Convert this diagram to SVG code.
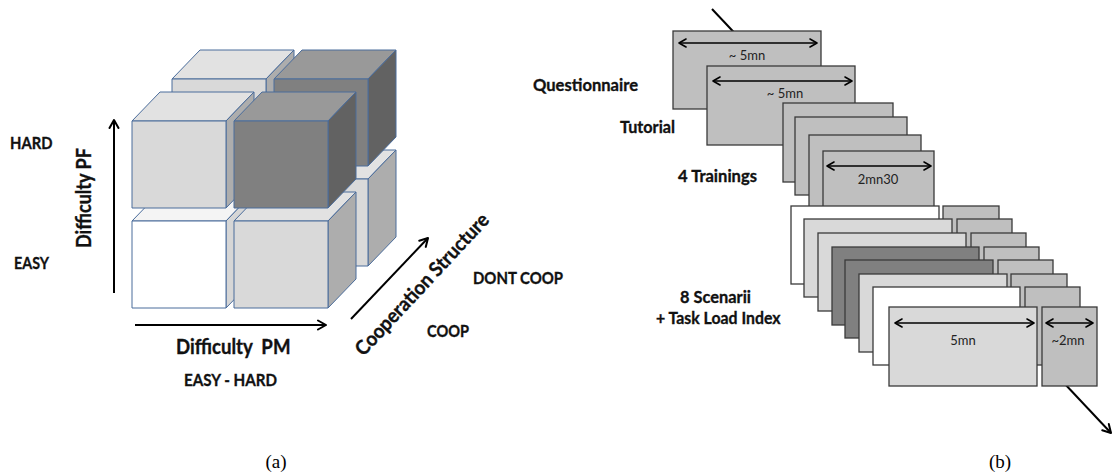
<svg xmlns="http://www.w3.org/2000/svg" width="1114" height="472" viewBox="0 0 1114 472">
<defs>
<style>
.t{font-family:Lato,"Liberation Sans",sans-serif;font-weight:bold;fill:#111;stroke:#111;stroke-width:0.35;font-size:17.5px}
.ax-t{font-size:20px}
.s{font-family:Lato,"Liberation Sans",sans-serif;font-size:13px;fill:#222}
.cap{font-family:"Liberation Serif",serif;font-size:19px;fill:#000}
.cb polygon,.cb rect{stroke:#4a6c9b;stroke-width:1;stroke-linejoin:round}
.lf{fill:#d9d9d9}.lt{fill:#e2e2e2}.ls{fill:#adadad}
.df{fill:#808080}.dt{fill:#999999}.ds{fill:#626262}
.wf{fill:#ffffff}.wt{fill:#f4f4f4}.ws{fill:#d6d6d6}
.bx{stroke:#3a3a3a;stroke-width:1.3}
.g1{fill:#bfbfbf}.g2{fill:#d9d9d9}.g3{fill:#808080}.g0{fill:#ffffff}
.ax{stroke:#000;stroke-width:2;fill:none}
.da{stroke:#000;stroke-width:1.6;fill:none}
</style>
<marker id="ah" viewBox="0 0 12 12" markerWidth="12" markerHeight="12" refX="11" refY="6" orient="auto" markerUnits="userSpaceOnUse">
<path d="M3,1.5 L11,6 L3,10.5" fill="none" stroke="#000" stroke-width="2" stroke-linecap="round" stroke-linejoin="round"/>
</marker>
<marker id="sh" viewBox="0 0 12 12" markerWidth="12" markerHeight="12" refX="10.5" refY="6" orient="auto-start-reverse" markerUnits="userSpaceOnUse">
<path d="M3.5,2 L10.5,6 L3.5,10" fill="none" stroke="#000" stroke-width="1.6" stroke-linecap="round" stroke-linejoin="round"/>
</marker>
</defs>
<rect width="1114" height="472" fill="#fff"/>

<!-- Panel (a): cubes, back layer (DONT COOP) -->
<g id="cube-back-bl" class="cb">
<polygon class="wt" points="172,179 200,150 294,150 266,179"/>
<polygon class="ws" points="266,179 294,150 294,237 266,266"/>
<rect class="wf" x="172" y="179" width="94" height="87"/>
</g>
<g id="cube-back-br" class="cb">
<polygon class="lt" points="274,179 302,150 396,150 368,179"/>
<polygon class="ls" points="368,179 396,150 396,237 368,266"/>
<rect class="lf" x="274" y="179" width="94" height="87"/>
</g>
<g id="cube-back-tl" class="cb">
<polygon class="lt" points="172,79 200,50 294,50 266,79"/>
<polygon class="ls" points="266,79 294,50 294,137 266,166"/>
<rect class="lf" x="172" y="79" width="94" height="87"/>
</g>
<g id="cube-back-tr" class="cb">
<polygon class="dt" points="274,79 302,50 396,50 368,79"/>
<polygon class="ds" points="368,79 396,50 396,137 368,166"/>
<rect class="df" x="274" y="79" width="94" height="87"/>
</g>
<!-- front layer (COOP) -->
<g id="cube-front-bl" class="cb">
<polygon class="wt" points="132,221 160,192 254,192 226,221"/>
<polygon class="ws" points="226,221 254,192 254,279 226,308"/>
<rect class="wf" x="132" y="221" width="94" height="87"/>
</g>
<g id="cube-front-br" class="cb">
<polygon class="lt" points="234,221 262,192 356,192 328,221"/>
<polygon class="ls" points="328,221 356,192 356,279 328,308"/>
<rect class="lf" x="234" y="221" width="94" height="87"/>
</g>
<g id="cube-front-tl" class="cb">
<polygon class="lt" points="132,121 160,92 254,92 226,121"/>
<polygon class="ls" points="226,121 254,92 254,179 226,208"/>
<rect class="lf" x="132" y="121" width="94" height="87"/>
</g>
<g id="cube-front-tr" class="cb">
<polygon class="dt" points="234,121 262,92 356,92 328,121"/>
<polygon class="ds" points="328,121 356,92 356,179 328,208"/>
<rect class="df" x="234" y="121" width="94" height="87"/>
</g>

<g id="axes-a">
<line class="ax" x1="114" y1="293" x2="114" y2="120" marker-end="url(#ah)"/>
<line class="ax" x1="135" y1="325" x2="326" y2="325" marker-end="url(#ah)"/>
<line class="ax" x1="351" y1="319" x2="428" y2="238" marker-end="url(#ah)"/>
</g>

<g id="labels-a">
<text class="t" x="10" y="149" textLength="42.5" lengthAdjust="spacingAndGlyphs">HARD</text>
<text class="t" x="14" y="269" textLength="35" lengthAdjust="spacingAndGlyphs">EASY</text>
<text class="t ax-t" transform="translate(91,198) rotate(-90)" x="-50" y="0" textLength="100" lengthAdjust="spacingAndGlyphs">Difficulty PF</text>
<text class="t ax-t" x="176" y="354" textLength="114.5" lengthAdjust="spacingAndGlyphs">Difficulty&#160; PM</text>
<text class="t" x="184" y="386" textLength="93" lengthAdjust="spacingAndGlyphs">EASY - HARD</text>
<text class="t ax-t" transform="translate(427,289) rotate(-47)" x="-93" y="0" textLength="186" lengthAdjust="spacingAndGlyphs">Cooperation Structure</text>
<text class="t" x="473" y="284" textLength="90" lengthAdjust="spacingAndGlyphs">DONT COOP</text>
<text class="t" x="427" y="337" textLength="42" lengthAdjust="spacingAndGlyphs">COOP</text>
<text class="cap" x="276" y="468" text-anchor="middle">(a)</text>
</g>

<!-- Panel (b) -->
<g id="timeline">
<line class="ax" x1="712" y1="9" x2="1111" y2="433" marker-end="url(#ah)"/>
</g>

<g id="box-questionnaire">
<rect class="bx g1" x="673" y="31" width="148" height="78"/>
<line class="da" x1="679" y1="43" x2="817" y2="43" marker-start="url(#sh)" marker-end="url(#sh)"/>
<text class="s" x="747" y="60" text-anchor="middle">~ 5mn</text>
</g>
<g id="box-tutorial">
<rect class="bx g1" x="707" y="66" width="148" height="79"/>
<line class="da" x1="713" y1="81" x2="852" y2="81" marker-start="url(#sh)" marker-end="url(#sh)"/>
<text class="s" x="785" y="98" text-anchor="middle">~ 5mn</text>
</g>
<g id="box-training-1"><rect class="bx g1" x="783" y="103" width="110" height="79"/></g>
<g id="box-training-2"><rect class="bx g1" x="795" y="117" width="112" height="78"/></g>
<g id="box-training-3"><rect class="bx g1" x="809" y="135" width="112" height="78"/></g>
<g id="box-training-4">
<rect class="bx g1" x="823" y="151" width="111" height="78"/>
<line class="da" x1="827" y1="166" x2="931" y2="166" marker-start="url(#sh)" marker-end="url(#sh)"/>
<text class="s" x="878" y="184" text-anchor="middle">2mn30</text>
</g>

<g id="scenario-1"><rect class="bx g0" x="791" y="206" width="148" height="78"/><rect class="bx g1" x="943" y="206" width="56" height="78"/></g>
<g id="scenario-2"><rect class="bx g2" x="804" y="219" width="148" height="78"/><rect class="bx g1" x="957" y="219" width="55" height="78"/></g>
<g id="scenario-3"><rect class="bx g2" x="818" y="233" width="148" height="78"/><rect class="bx g1" x="971" y="233" width="55" height="78"/></g>
<g id="scenario-4"><rect class="bx g3" x="832" y="247" width="147" height="78"/><rect class="bx g1" x="984" y="247" width="55" height="78"/></g>
<g id="scenario-5"><rect class="bx g3" x="845" y="260" width="148" height="78"/><rect class="bx g1" x="998" y="260" width="55" height="78"/></g>
<g id="scenario-6"><rect class="bx g2" x="859" y="274" width="148" height="78"/><rect class="bx g1" x="1011" y="274" width="56" height="78"/></g>
<g id="scenario-7"><rect class="bx g0" x="873" y="287" width="147" height="78"/><rect class="bx g1" x="1025" y="287" width="55" height="78"/></g>
<g id="scenario-8">
<rect class="bx g2" x="889" y="307" width="148" height="79"/>
<rect class="bx g1" x="1042" y="307" width="55" height="79"/>
<line class="da" x1="895" y1="323" x2="1034" y2="323" marker-start="url(#sh)" marker-end="url(#sh)"/>
<text class="s" x="963" y="345" text-anchor="middle">5mn</text>
<line class="da" x1="1046" y1="323" x2="1093" y2="323" marker-start="url(#sh)" marker-end="url(#sh)"/>
<text class="s" x="1068" y="345" text-anchor="middle">~2mn</text>
</g>

<g id="labels-b">
<text class="t" x="533" y="91" textLength="105" lengthAdjust="spacingAndGlyphs">Questionnaire</text>
<text class="t" x="620" y="133" textLength="55" lengthAdjust="spacingAndGlyphs">Tutorial</text>
<text class="t" x="678" y="182" textLength="79" lengthAdjust="spacingAndGlyphs">4 Trainings</text>
<text class="t" x="680" y="303" textLength="71" lengthAdjust="spacingAndGlyphs">8 Scenarii</text>
<text class="t" x="656" y="324" textLength="124.5" lengthAdjust="spacingAndGlyphs">+ Task Load Index</text>
<text class="cap" x="1000" y="468" text-anchor="middle">(b)</text>
</g>
</svg>
